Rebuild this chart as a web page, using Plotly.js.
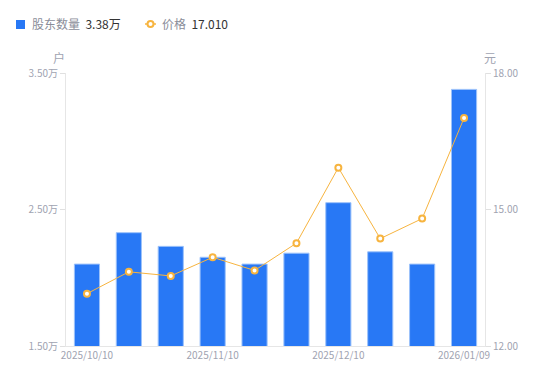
<!DOCTYPE html>
<html>
<head>
<meta charset="utf-8">
<script src="https://cdn.plot.ly/plotly-3.0.1.min.js"></script>
<style>html,body{margin:0;padding:0;background:#fff;}#chart{width:550px;height:381px;}</style>
</head>
<body>
<div id="chart"></div>
<script>
const dates = ["2025/10/10","2025/10/20","2025/10/31","2025/11/10","2025/11/20","2025/11/28","2025/12/10","2025/12/19","2025/12/31","2026/01/09"];
const holders = [2.10, 2.33, 2.23, 2.15, 2.10, 2.18, 2.55, 2.19, 2.10, 3.38]; // 万户
const prices = [13.15, 13.63, 13.54, 13.95, 13.66, 14.26, 15.92, 14.36, 14.80, 17.01];
const tickDates = ["2025/10/10","2025/11/10","2025/12/10","2026/01/09"];
const leftTicks = [1.5, 2.5, 3.5];
const rightTicks = [12, 15, 18];

const gray = "#a0a3b1";
const legendGray = "#8a8d99";
const blue = "#2878f5";
const orange = "#f7b43f";
const font = "'Noto Sans CJK SC', 'Noto Sans', sans-serif";

// plot area in px: left 66, right 485, top 73, bottom 346
const W = 419, H = 273, L = 66, B = 346;
const px = v => (v - L) / W;
const py = v => (B - v) / H;

const lastHolder = holders[holders.length - 1].toFixed(2) + "万";
const lastPrice = prices[prices.length - 1].toFixed(3);

const traces = [
  {
    type: "bar", x: dates, y: holders, name: "股东数量",
    marker: {color: blue, line: {color: "#9cc2fa", width: 1}},
    width: 0.6, yaxis: "y", hoverinfo: "none"
  },
  {
    type: "scatter", mode: "lines+markers", x: dates, y: prices, yaxis: "y2", name: "价格",
    line: {color: orange, width: 1},
    marker: {color: "#ffffff", size: 6, line: {color: orange, width: 2}},
    hoverinfo: "none"
  }
];

const layout = {
  width: 550, height: 381,
  margin: {l: 66, r: 65, t: 73, b: 35},
  paper_bgcolor: "#fff", plot_bgcolor: "#fff",
  font: {family: font, size: 10, color: gray},
  showlegend: false,
  xaxis: {
    type: "category", range: [-0.5, 9.5],
    tickmode: "array", tickvals: tickDates, ticktext: tickDates,
    showgrid: false, showline: true, linecolor: "#e6e6e6", linewidth: 1,
    ticks: "", tickfont: {size: 10, color: gray}, zeroline: false, fixedrange: true
  },
  yaxis: {
    range: [1.5, 3.5], tickmode: "array", tickvals: leftTicks,
    ticktext: leftTicks.map(v => v.toFixed(2) + "万"),
    showgrid: false, showline: true, linecolor: "#e6e6e6", linewidth: 1,
    ticks: "outside", ticklen: 5, tickcolor: "#e0e0e0", tickfont: {size: 10, color: gray},
    zeroline: false
  },
  yaxis2: {
    range: [12, 18], overlaying: "y", side: "right", tickmode: "array", tickvals: rightTicks,
    ticktext: rightTicks.map(v => v.toFixed(2)),
    showgrid: false, showline: true, linecolor: "#e6e6e6", linewidth: 1,
    ticks: "outside", ticklen: 5, tickcolor: "#e0e0e0", tickfont: {size: 10, color: gray},
    zeroline: false
  },
  shapes: [
    // legend symbols
    {type: "rect", xref: "paper", yref: "paper", x0: px(16), x1: px(25), y0: py(29), y1: py(20),
     fillcolor: blue, line: {width: 0}},
    {type: "line", xref: "paper", yref: "paper", x0: px(145), x1: px(156), y0: py(24), y1: py(24),
     line: {color: orange, width: 1.5}},
    {type: "circle", xref: "paper", yref: "paper", x0: px(147.5), x1: px(153.5), y0: py(27), y1: py(21),
     fillcolor: "#ffffff", line: {color: orange, width: 2}}
  ],
  annotations: [
    {text: '股东数量  <span style="color:#333333">' + lastHolder + '</span>', xref: "paper", yref: "paper",
     x: px(30), y: py(24), xanchor: "left", yanchor: "middle", showarrow: false,
     font: {size: 12, color: legendGray}},
    {text: '价格  <span style="color:#333333">' + lastPrice + '</span>', xref: "paper", yref: "paper",
     x: px(160), y: py(24), xanchor: "left", yanchor: "middle", showarrow: false,
     font: {size: 12, color: legendGray}},
    {text: "户", xref: "paper", yref: "paper", x: px(59), y: py(57), xanchor: "center", yanchor: "middle", showarrow: false, font: {size: 12, color: gray}},
    {text: "元", xref: "paper", yref: "paper", x: px(490), y: py(57), xanchor: "center", yanchor: "middle", showarrow: false, font: {size: 12, color: gray}}
  ]
};

Plotly.newPlot("chart", traces, layout, {displayModeBar: false, staticPlot: true});
</script>
</body>
</html>
